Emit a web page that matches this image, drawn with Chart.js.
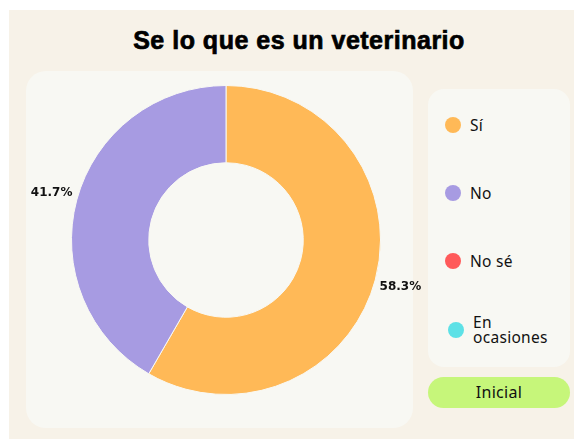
<!DOCTYPE html>
<html>
<head>
<meta charset="utf-8">
<script src="https://cdn.jsdelivr.net/npm/chart.js@4.4.1/dist/chart.umd.min.js"></script>
<style>
  html, body { margin: 0; padding: 0; background: #ffffff; }
  body { width: 574px; height: 439px; position: relative; overflow: hidden; font-family: "Noto Sans", sans-serif; }
  #panel { position: absolute; left: 9px; top: 10px; width: 565px; height: 429px; background: #f7f2e8; }
  #title { position: absolute; left: 9px; width: 580px; top: 26px; text-align: center; font: bold 25px "Liberation Sans", sans-serif; color: #000; letter-spacing: 0.5px; -webkit-text-stroke: 0.7px #000; }
  #card { position: absolute; left: 26px; top: 71px; width: 387px; height: 357px; background: #f8f8f3; border-radius: 20px; }
  #chartWrap { position: absolute; left: 26px; top: 71px; width: 400px; height: 338px; }
  #legend { position: absolute; left: 428px; top: 89px; width: 142px; height: 278px; background: #f8f8f3; border-radius: 16px; }
  .item { position: absolute; left: 17px; display: flex; align-items: center; font-size: 15.5px; color: #111; line-height: 15px; letter-spacing: 0.3px; }
  .dot { width: 16px; height: 16px; border-radius: 50%; margin-right: 9px; flex: none; }
  #btn { position: absolute; left: 428px; top: 377px; width: 142px; height: 31px; background: #c6f67a; border-radius: 16px; text-align: center; line-height: 31px; font-size: 16px; color: #111; letter-spacing: 0.3px; }
</style>
</head>
<body>
<div id="panel"></div>
<div id="title">Se lo que es un veterinario</div>
<div id="card"></div>
<div id="chartWrap"><canvas id="pie"></canvas></div>
<div id="legend"></div>
<div id="btn">Inicial</div>
<script>
const labels = ['Sí', 'No', 'No sé', 'En ocasiones'];
const values = [7, 5, 0, 0];
const colors = ['#ffb957', '#a79be2', '#ff5a5a', '#5de1e6'];
const legendTops = [28, 96, 164, 226];

function buildLegend() {
  const box = document.getElementById('legend');
  labels.forEach((l, i) => {
    const el = document.createElement('div');
    el.className = 'item';
    el.style.top = legendTops[i] + 'px';
    const txt = l === 'En ocasiones' ? 'En<br/>ocasiones' : l;
    if (l === 'En ocasiones') el.style.left = '20px';
    el.innerHTML = `<span class="dot" style="background:${colors[i]}"></span><span>${txt}</span>`;
    box.appendChild(el);
  });
}

const pctLabels = {
  id: 'pctLabels',
  afterDatasetsDraw(chart) {
    const ctx = chart.ctx;
    const total = values.reduce((a, b) => a + b, 0);
    const meta = chart.getDatasetMeta(0);
    ctx.save();
    ctx.font = 'bold 12px "DejaVu Sans", sans-serif';
    ctx.fillStyle = '#111';
    ctx.textAlign = 'center';
    ctx.textBaseline = 'middle';
    meta.data.forEach((arc, i) => {
      if (!values[i]) return;
      const p = arc.getProps(['x', 'y', 'startAngle', 'endAngle', 'outerRadius'], true);
      const mid = (p.startAngle + p.endAngle) / 2;
      const r = p.outerRadius + 26;
      const txt = (values[i] / total * 100).toFixed(1) + '%';
      ctx.fillText(txt, p.x + Math.cos(mid) * r, p.y + Math.sin(mid) * r);
    });
    ctx.restore();
  }
};

function init() {
  buildLegend();
  const ctx = document.getElementById('pie').getContext('2d');
  new Chart(ctx, {
    type: 'doughnut',
    data: { labels, datasets: [{ data: values, backgroundColor: colors, borderColor: '#f8f8f3', borderWidth: 1 }] },
    options: {
      responsive: true,
      maintainAspectRatio: false,
      animation: false,
      cutout: '50%',
      layout: { padding: { top: 14, bottom: 14 } },
      plugins: { legend: { display: false }, tooltip: { enabled: false } }
    },
    plugins: [pctLabels]
  });
}

init();
</script>
</body>
</html>
